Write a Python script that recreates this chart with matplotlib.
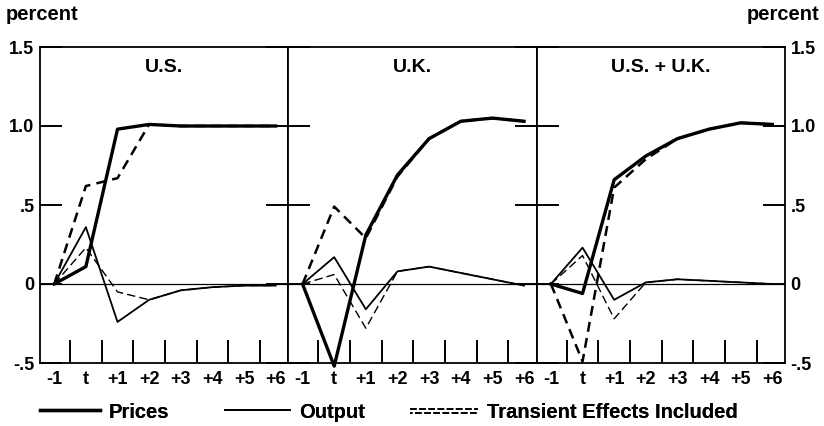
import matplotlib
matplotlib.use('Agg')
import matplotlib.pyplot as plt
from matplotlib.lines import Line2D
from matplotlib.legend_handler import HandlerBase

plt.rcParams['font.family'] = ['Liberation Sans', 'DejaVu Sans']
plt.rcParams['font.weight'] = 'bold'

periods = ['-1', 't', '+1', '+2', '+3', '+4', '+5', '+6']
panels = ['U.S.', 'U.K.', 'U.S. + U.K.']

# prices (thick solid)
prices = [
    [0, 0.11, 0.98, 1.01, 1.0, 1.0, 1.0, 1.0],
    [0, -0.52, 0.31, 0.69, 0.92, 1.03, 1.05, 1.03],
    [0, -0.06, 0.66, 0.81, 0.92, 0.98, 1.02, 1.01],
]
# prices, transient effects included (thick dashed)
prices_tr = [
    [0, 0.62, 0.67, 1.01, 1.0, 1.0, 1.0, 1.0],
    [0, 0.49, 0.29, 0.68, 0.92, 1.03, 1.05, 1.03],
    [0, -0.49, 0.61, 0.79, 0.92, 0.98, 1.02, 1.01],
]
# output (thin solid)
output = [
    [0, 0.36, -0.24, -0.10, -0.04, -0.02, -0.01, -0.01],
    [0, 0.17, -0.16, 0.08, 0.11, 0.07, 0.03, -0.01],
    [0, 0.23, -0.10, 0.01, 0.03, 0.02, 0.01, 0.0],
]
# output, transient effects included (thin dashed)
output_tr = [
    [0, 0.23, -0.05, -0.10, -0.04, -0.02, -0.01, -0.01],
    [0, 0.06, -0.28, 0.08, 0.11, 0.07, 0.03, -0.01],
    [0, 0.18, -0.22, 0.01, 0.03, 0.02, 0.01, 0.0],
]

ytick_vals = [-0.5, 0, 0.5, 1.0, 1.5]
ytick_labels = ['-.5', '0', '.5', '1.0', '1.5']


class DoubleDash(HandlerBase):
    # two staggered rows of dashes, like the printed key
    def create_artists(self, legend, orig_handle, xdescent, ydescent,
                       width, height, fontsize, trans):
        xs = [-xdescent, width - xdescent]
        a = Line2D(xs, [height * 0.62] * 2, color='black', lw=1.2,
                   linestyle=(0, (4, 1.5)))
        b = Line2D(xs, [height * 0.30] * 2, color='black', lw=1.2,
                   linestyle=(2.5, (4, 1.5)))
        a.set_transform(trans)
        b.set_transform(trans)
        return [a, b]


fig = plt.figure(figsize=(8.24, 4.26), dpi=100)
left, right = 40 / 824, 785 / 824
bottom, top = 1 - 363 / 426, 1 - 47 / 426
w = (right - left) / 3

x = list(range(len(periods)))
for i, name in enumerate(panels):
    ax = fig.add_axes([left + i * w, bottom, w, top - bottom])
    ax.axhline(0, color='black', lw=0.9, zorder=1)
    ax.plot(x, prices_tr[i], color='black', lw=1.8, dashes=(4, 2.5), clip_on=False)
    ax.plot(x, output_tr[i], color='black', lw=1.0, dashes=(6, 3), clip_on=False)
    ax.plot(x, output[i], color='black', lw=1.3, clip_on=False)
    ax.plot(x, prices[i], color='black', lw=2.4, clip_on=False)
    ax.set_xlim(-0.45, 7.4)
    ax.set_ylim(-0.5, 1.5)
    ax.set_xticks(x)
    ax.set_xticklabels(periods, fontsize=13)
    ax.set_xticks([v + 0.5 for v in x[:-1]], minor=True)
    ax.tick_params(axis='x', which='major', length=0, pad=6)
    ax.tick_params(axis='x', which='minor', direction='in', length=16.5, width=1.4)
    ax.set_yticks(ytick_vals)
    ax.set_yticklabels(ytick_labels, fontsize=13)
    ax.tick_params(axis='y', direction='in', length=16, width=1.4,
                   left=True, right=True,
                   labelleft=(i == 0), labelright=(i == 2), pad=4)
    for s in ax.spines.values():
        s.set_linewidth(1.3)
    ax.text(0.5, 0.934, name, transform=ax.transAxes, ha='center', va='center', fontsize=14)

fig.text(6 / 824, 1 - 15 / 426, 'percent', ha='left', va='center', fontsize=14.5)
fig.text(819 / 824, 1 - 15 / 426, 'percent', ha='right', va='center', fontsize=14.5)

# legend, one key at a time so each sits where the printed one does
keys = [
    (Line2D([], [], color='black', lw=2.4), 'Prices', 40, 60),
    (Line2D([], [], color='black', lw=1.3), 'Output', 225, 65),
    (Line2D([], [], color='black', lw=1.2), 'Transient Effects Included', 410, 68),
]
for j, (h, lab, x0, hl) in enumerate(keys):
    fs = 14.5
    leg = fig.legend([h], [lab], loc='center left',
                     bbox_to_anchor=(x0 / 824, 1 - 412 / 426),
                     frameon=False, prop={'size': fs, 'weight': 'bold'},
                     handlelength=hl / (fs * 100 / 72), handletextpad=0.45,
                     borderaxespad=0, borderpad=0,
                     handler_map={h: DoubleDash()} if j == 2 else None)
    fig.add_artist(leg)

fig.savefig('out.png', dpi=100)
